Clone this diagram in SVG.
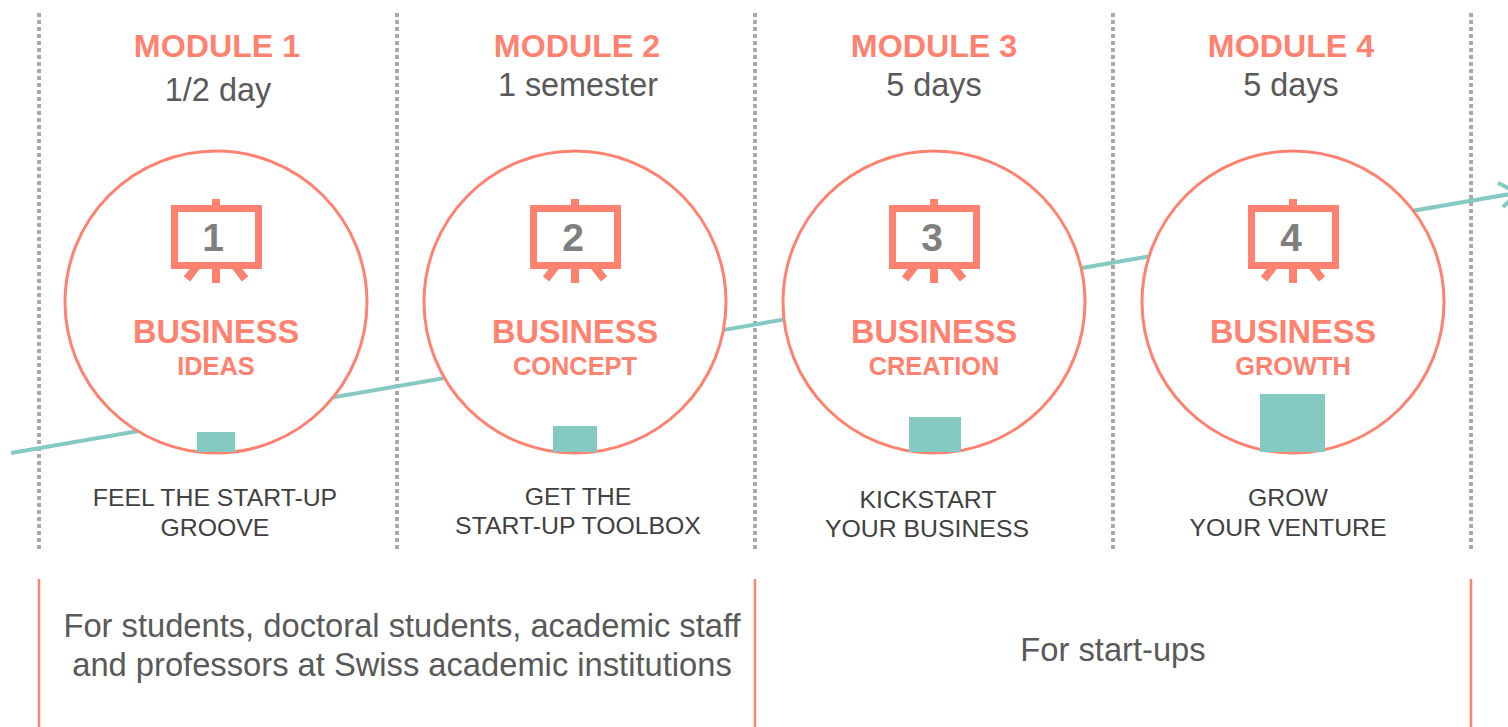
<svg xmlns="http://www.w3.org/2000/svg" width="1508" height="727" viewBox="0 0 1508 727">
<style>
text{font-family:"Liberation Sans",Arial,sans-serif;text-anchor:middle}
.mod{font-size:32.2px;font-weight:700;fill:#ff8270}
.dur{font-size:32.4px;fill:#595959}
.big{font-size:32.5px;font-weight:700;fill:#ff8270}
.sub{font-size:25.4px;font-weight:700;fill:#ff8270}
.num{font-size:39px;font-weight:700;fill:#7f7f7f}
.tag{font-size:24.8px;fill:#404040}
.aud{font-size:32.7px;fill:#595959}
.dot{stroke:#a9a9a9;stroke-width:4;stroke-dasharray:4 3;fill:none}
.rule{stroke:#ff8270;stroke-width:2.5;fill:none}
.ring{fill:#fff;stroke:#ff8270;stroke-width:3}
.bar{fill:#84cac3}
.frame{fill:none;stroke:#ff8270;stroke-width:7}
.post{stroke:#ff8270;stroke-width:8;fill:none}
</style>
<defs>
<g id="easel">
<rect class="frame" x="-41.500" y="-93.500" width="84" height="57"/>
<path class="post" d="M0-103V-97M0-34V-19M-19-36L-29-23M19-36L29-23"/>
</g>
</defs>
<g id="guides">
<path class="dot" d="M39 13V550M397 13V550M755 13V550M1113 13V550M1471 13V550"/>
<path class="rule" d="M39 579V727M755 579V727M1471 579V727"/>
</g>
<g id="connectors">
<path d="M11 453L1516 193M1498 183L1518 193L1503 207" fill="none" stroke="#84cac3" stroke-width="4"/>
</g>
<g id="module-1">
<text class="mod" x="217" y="57">MODULE 1</text>
<text class="dur" x="218" y="101">1/2 day</text>
<circle class="ring" cx="216" cy="302" r="151"/>
<use href="#easel" x="216" y="302"/>
<text class="num" x="213" y="251">1</text>
<text class="big" x="216" y="343">BUSINESS</text>
<text class="sub" x="216" y="375">IDEAS</text>
<rect class="bar" x="197" y="432" width="38" height="20"/>
<text class="tag" x="215" y="506">FEEL THE START-UP</text>
<text class="tag" x="215" y="536">GROOVE</text>
</g>
<g id="module-2">
<text class="mod" x="577" y="57">MODULE 2</text>
<text class="dur" x="578" y="96">1 semester</text>
<circle class="ring" cx="575" cy="302" r="151"/>
<use href="#easel" x="575" y="302"/>
<text class="num" x="573" y="251">2</text>
<text class="big" x="575" y="343">BUSINESS</text>
<text class="sub" x="575" y="375">CONCEPT</text>
<rect class="bar" x="553" y="426" width="44" height="26"/>
<text class="tag" x="578" y="505">GET THE</text>
<text class="tag" x="578" y="534">START-UP TOOLBOX</text>
</g>
<g id="module-3">
<text class="mod" x="934" y="57">MODULE 3</text>
<text class="dur" x="934" y="96">5 days</text>
<circle class="ring" cx="934" cy="302" r="151"/>
<use href="#easel" x="934" y="302"/>
<text class="num" x="932" y="251">3</text>
<text class="big" x="934" y="343">BUSINESS</text>
<text class="sub" x="934" y="375">CREATION</text>
<rect class="bar" x="909" y="417" width="52" height="35"/>
<text class="tag" x="928" y="508">KICKSTART</text>
<text class="tag" x="927" y="537">YOUR BUSINESS</text>
</g>
<g id="module-4">
<text class="mod" x="1291" y="57">MODULE 4</text>
<text class="dur" x="1291" y="96">5 days</text>
<circle class="ring" cx="1293" cy="302" r="151"/>
<use href="#easel" x="1293" y="302"/>
<text class="num" x="1291" y="251">4</text>
<text class="big" x="1293" y="343">BUSINESS</text>
<text class="sub" x="1293" y="375">GROWTH</text>
<rect class="bar" x="1260" y="394" width="65" height="58"/>
<text class="tag" x="1288" y="506">GROW</text>
<text class="tag" x="1288" y="536">YOUR VENTURE</text>
</g>
<g id="audience">
<text class="aud" x="402" y="637">For students, doctoral students, academic staff</text>
<text class="aud" x="402" y="676">and professors at Swiss academic institutions</text>
<text class="aud" x="1113" y="661">For start-ups</text>
</g>
</svg>
